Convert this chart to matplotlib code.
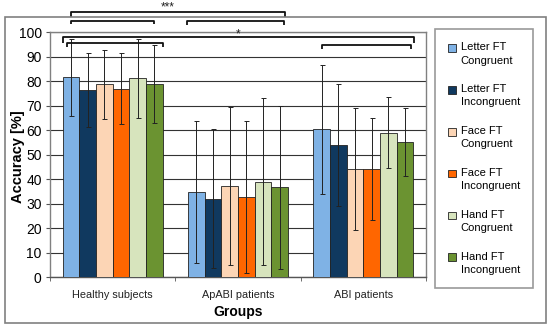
import numpy as np
import matplotlib
matplotlib.use("Agg")
import matplotlib.pyplot as plt
from matplotlib.patches import Rectangle
from matplotlib.container import BarContainer
from matplotlib.legend_handler import HandlerPatch

plt.rcParams['font.family'] = ['Liberation Sans', 'DejaVu Sans']

## data
groups = ["Healthy subjects", "ApABI patients", "ABI patients"]
conditions = ["Letter FT\nCongruent", "Letter FT\nIncongruent", "Face FT\nCongruent",
              "Face FT\nIncongruent", "Hand FT\nCongruent", "Hand FT\nIncongruent"]
colors = ["#7FB2E5", "#10395F", "#FCD5B5", "#FF6600", "#D7E4BD", "#6B9331"]

letter_cong = [81.5, 34.9, 60.4]
letter_incong = [76.2, 32.1, 54.1]
face_cong = [78.6, 37.3, 44.2]
face_incong = [76.9, 32.9, 44.2]
hand_cong = [81.1, 39.0, 59.0]
hand_incong = [78.8, 36.7, 55.3]

letter_cong_sd = [15.7, 28.9, 26.3]
letter_incong_sd = [15.1, 28.3, 24.9]
face_cong_sd = [13.9, 32.3, 24.8]
face_incong_sd = [14.4, 31.0, 20.7]
hand_cong_sd = [16.0, 34.0, 14.6]
hand_incong_sd = [15.9, 33.3, 13.8]

means = [letter_cong, letter_incong, face_cong, face_incong, hand_cong, hand_incong]
sds = [letter_cong_sd, letter_incong_sd, face_cong_sd, face_incong_sd, hand_cong_sd, hand_incong_sd]

fig = plt.figure(figsize=(5.5, 3.27), dpi=100)
ax = fig.add_axes([50/550, 1-277.3/327, 376/550, 245.3/327])

x = np.arange(len(groups))
w = 0.8/6
for i in range(6):
    ax.bar(x + (i-2.5)*w, means[i], w, color=colors[i], edgecolor='#222222',
           linewidth=0.6, label=conditions[i], zorder=3)
    ax.errorbar(x + (i-2.5)*w, means[i], yerr=sds[i], fmt='none', ecolor='#222222',
                elinewidth=0.7, capsize=1.8, capthick=0.7, zorder=4)

ax.set_xlim(-0.5, 2.5)
ax.set_ylim(0, 100)
ax.set_yticks(range(0, 101, 10))
ax.yaxis.grid(True, color='#333333', linewidth=0.8, zorder=0)
ax.set_xticks(x)
ax.set_xticklabels(groups, fontsize=7.8, color='#222222')
ax.set_xticks([-0.5, 0.5, 1.5, 2.5], minor=True)
ax.tick_params(axis='x', which='major', length=0, pad=9)
ax.tick_params(axis='x', which='minor', length=3, direction='out', color='#555555')
ax.tick_params(axis='y', length=3, direction='out', labelsize=10, pad=3, color='#555555')
for s in ax.spines.values():
    s.set_color('#808080')
    s.set_linewidth(1.0)
ax.spines['bottom'].set_color('#555555')
ax.set_xlabel("Groups", fontsize=10, fontweight='bold', labelpad=4)
ax.set_ylabel("Accuracy [%]", fontsize=10.5, fontweight='bold')
ax.yaxis.set_label_coords(-0.066, 0.49)

## significance brackets
def bracket(x0, x1, y, drop, lw=1.3):
    ax.plot([x0, x0, x1, x1], [y-drop, y, y, y-drop], color='#111111', lw=lw,
            clip_on=False, zorder=5, solid_capstyle='butt')

bracket(-0.332, 1.377, 108.0, 2.0)
bracket(-0.332, 0.332, 104.6, 1.4)
bracket(0.595, 1.369, 104.3, 1.4)
ax.text(0.441, 110.0, "***", ha='center', va='center', fontsize=8.5, color='#222222')

bracket(-0.394, 2.407, 97.8, 2.4)
bracket(-0.367, 0.404, 95.6, 1.8)
bracket(1.668, 2.380, 94.7, 1.6)
ax.text(0.998, 99.2, "*", ha='center', va='center', fontsize=8.5, color='#222222')

# legend square next to the first line of each label
def top_square(legend, orig_handle, xdescent, ydescent, width, height, fontsize):
    return Rectangle((-xdescent, -ydescent + 0.55*fontsize), height, height)

def from_first_bar(tgt, src):
    tgt.update_from(src.patches[0])

leg = fig.legend(loc='upper left', bbox_to_anchor=(435/550, 1-29/327), fontsize=8,
                 frameon=True, fancybox=False, edgecolor='#808080',
                 handlelength=0.7, handleheight=0.7, handletextpad=0.4,
                 labelspacing=1.68, borderpad=1.2, borderaxespad=0,
                 handler_map={BarContainer: HandlerPatch(patch_func=top_square,
                                                         update_func=from_first_bar)})
leg.get_frame().set_linewidth(1.2)
for t in leg.get_texts():
    t.set_linespacing(1.4)

fig.patches.append(Rectangle((5/550, 4/327), 541/550, 306/327, transform=fig.transFigure,
                             fill=False, edgecolor='#808080', linewidth=1.2))

fig.savefig("out.png", dpi=100)
